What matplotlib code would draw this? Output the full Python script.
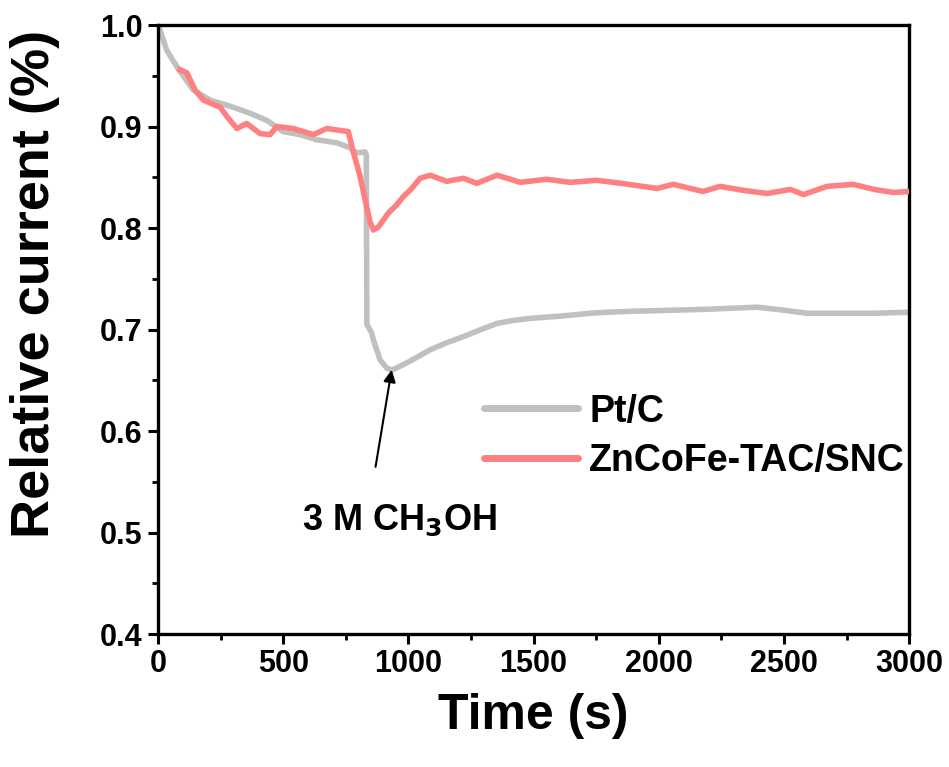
import matplotlib
matplotlib.use("Agg")
import matplotlib.pyplot as plt
from matplotlib.ticker import MultipleLocator

plt.rcParams["font.family"] = ["Liberation Sans", "DejaVu Sans"]
plt.rcParams["font.weight"] = "bold"
plt.rcParams["mathtext.default"] = "bf"

# Pt/C chronoamperometry (relative current)
ptc_t = [0, 8, 35, 75, 141, 208, 300, 368, 435, 500, 567, 633, 714, 767, 794,
         827, 832, 834, 853, 860, 887, 914, 934, 960, 1000, 1087, 1153, 1220,
         1290, 1354, 1420, 1487, 1600, 1726, 1793, 1900, 2058, 2200, 2393,
         2500, 2593, 2700, 2858, 3000]
ptc_v = [1.0, 0.995, 0.975, 0.959, 0.936, 0.926, 0.919, 0.913, 0.906, 0.895,
         0.892, 0.887, 0.884, 0.879, 0.874, 0.875, 0.872, 0.705, 0.697, 0.69,
         0.67, 0.662, 0.66, 0.663, 0.668, 0.68, 0.687, 0.693, 0.700, 0.706,
         0.709, 0.711, 0.713, 0.716, 0.717, 0.718, 0.719, 0.720, 0.722, 0.719,
         0.716, 0.716, 0.716, 0.717]

# ZnCoFe-TAC/SNC
znc_t = [88, 115, 148, 181, 248, 275, 315, 354, 408, 448, 474, 541, 621, 674,
         760, 781, 807, 827, 847, 860, 880, 921, 950, 980, 1010, 1047, 1087,
         1153, 1220, 1273, 1354, 1447, 1553, 1646, 1753, 1850, 1993, 2058,
         2177, 2245, 2340, 2433, 2525, 2578, 2672, 2777, 2860, 2938, 3000]
znc_v = [0.956, 0.953, 0.936, 0.926, 0.919, 0.910, 0.898, 0.903, 0.893,
         0.892, 0.900, 0.898, 0.892, 0.898, 0.895, 0.874, 0.851, 0.828, 0.806,
         0.798, 0.801, 0.815, 0.822, 0.831, 0.838, 0.849, 0.852, 0.846, 0.849,
         0.844, 0.852, 0.845, 0.848, 0.845, 0.847, 0.844, 0.839, 0.843, 0.836,
         0.841, 0.837, 0.834, 0.838, 0.833, 0.841, 0.843, 0.838, 0.835, 0.836]

fig = plt.figure(figsize=(9.49, 7.67), dpi=100)
ax = fig.add_axes([0.1665, 0.1734, 0.7915, 0.794])

ax.plot(ptc_t, ptc_v, color="#c0c0c0", lw=4.0, label="Pt/C", zorder=2)
ax.plot(znc_t, znc_v, color="#ff8080", lw=4.0, label="ZnCoFe-TAC/SNC", zorder=3)

ax.set_xlim(0, 3000)
ax.set_ylim(0.4, 1.0)
ax.xaxis.set_major_locator(MultipleLocator(500))
ax.xaxis.set_minor_locator(MultipleLocator(250))
ax.yaxis.set_major_locator(MultipleLocator(0.1))
ax.yaxis.set_minor_locator(MultipleLocator(0.05))
ax.set_yticklabels([f"{v:.1f}" for v in ax.get_yticks()])

for s in ax.spines.values():
    s.set_linewidth(2.4)
ax.tick_params(which="major", direction="out", length=7, width=2.2,
               labelsize=22, pad=4)
ax.tick_params(which="minor", direction="out", length=4, width=2.0)
ax.tick_params(top=False, right=False, which="both")

ax.set_xlabel("Time (s)", fontsize=36, fontweight="bold", labelpad=10)
ax.set_ylabel("Relative current (%)", fontsize=39, fontweight="bold")
ax.yaxis.set_label_coords(-0.13, 0.575)

ax.annotate("", xy=(935, 0.663), xytext=(867, 0.562),
            arrowprops=dict(arrowstyle="-|>", color="black", lw=1.5,
                            mutation_scale=18))
ax.text(965, 0.512, "3 M CH$_3$OH", fontsize=26, ha="center", va="center",
        fontweight="bold")

leg = ax.legend(loc="center left", bbox_to_anchor=(0.434, 0.325),
                frameon=False, fontsize=27, handlelength=2.5,
                handletextpad=0.3, labelspacing=0.35, borderpad=0,
                borderaxespad=0)
for h in leg.get_lines():
    h.set_linewidth(5)
    h.set_solid_capstyle("round")

fig.savefig("out.png", dpi=100)
